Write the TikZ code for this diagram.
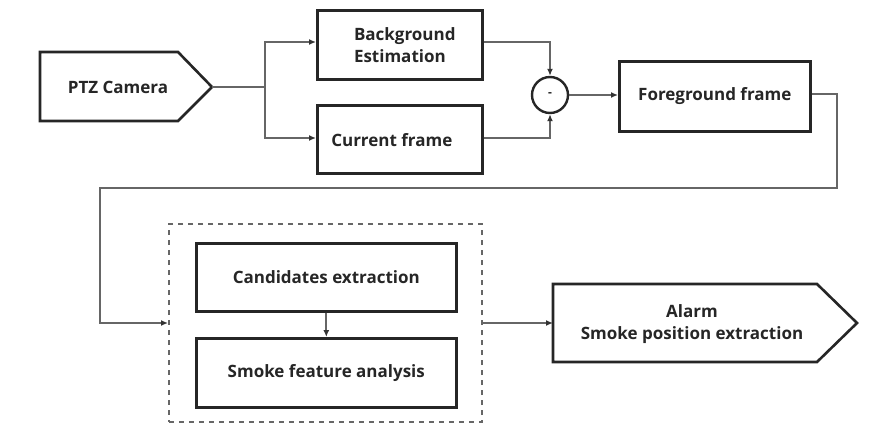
\documentclass[tikz,border=0pt]{standalone}
\usepackage{fontspec}
\setmainfont{Open Sans}
\usetikzlibrary{arrows.meta,calc}
\begin{document}
\begin{tikzpicture}[x=1pt,y=-1pt,
  box/.style={draw=black!85,line width=2.6pt,fill=white},
  conn/.style={draw=black!60,line width=1.8pt},
  arr/.style={conn,-{Latex[length=7pt,width=6pt,fill=black!80,color=black!80]}},
  lbl/.style={font=\bfseries\fontsize{17}{22}\selectfont,text=black!85,align=center}]
\useasboundingbox (0,0) rectangle (870,444);
% PTZ camera (pentagon)
\draw[box] (40,52) -- (178,52) -- (212,87) -- (178,121) -- (40,121) -- cycle;
\node[lbl] (ptz) at (118,87) {PTZ Camera};
\coordinate (ptztip) at (212,87);
% Background / current
\node[box,minimum width=165,minimum height=69,anchor=north west,inner sep=0] (bg) at (316,9) {};
\node[lbl,align=left] at ($(bg.center)+(5,0)$) {Background\\Estimation};
\node[box,minimum width=165,minimum height=68,anchor=north west,inner sep=0] (cur) at (316,104) {};
\node[lbl] at ($(cur.center)+(-8,1)$) {Current frame};
% subtract circle
\node[draw=black!85,line width=2.4pt,circle,minimum size=36,inner sep=0,fill=white] (sub) at (550,95) {};
\node[lbl,font=\bfseries\fontsize{12}{14}\selectfont] at (sub.center) {-};
% foreground
\node[box,minimum width=191,minimum height=70,anchor=north west,inner sep=0] (fg) at (618,60) {};
\node[lbl] at (fg.center) {Foreground frame};
% dashed group
\node[draw=black!60,line width=2pt,dash pattern=on 5pt off 5pt,minimum width=313,minimum height=198,anchor=north west,inner sep=0] (grp) at (168,223) {};
\node[box,minimum width=260,minimum height=68,anchor=north west,inner sep=0] (cand) at (195,242) {};
\node[lbl] at (cand.center) {Candidates extraction};
\node[box,minimum width=260,minimum height=69,anchor=north west,inner sep=0] (smk) at (195,337) {};
\node[lbl] at (smk.center) {Smoke feature analysis};
% alarm pentagon
\draw[box] (553,284) -- (817,284) -- (857,323) -- (817,362) -- (553,362) -- cycle;
\coordinate (alarm) at (553,323);
\node[lbl] at (692,324) {Alarm\\Smoke position extraction};
% connectors
\coordinate (split) at (265,87);
\draw[conn] (ptztip) -- (split);
\draw[arr] (split) |- (bg.west |- 0,42);
\draw[arr] (split) |- (cur.west |- 0,138);
\draw[arr] (bg.east |- 0,42) -| (sub.north);
\draw[arr] (cur.east |- 0,138) -| (sub.south);
\draw[arr] (sub.east) -- (fg.west |- sub.east);
\draw[arr] (fg.east |- 0,94) -- (837,94) -- (837,188) -- (100,188) |- (grp.west |- 0,323);
\draw[arr] (cand.south) -- (smk.north);
\draw[arr] (grp.east |- alarm) -- (alarm);
\end{tikzpicture}
\end{document}
